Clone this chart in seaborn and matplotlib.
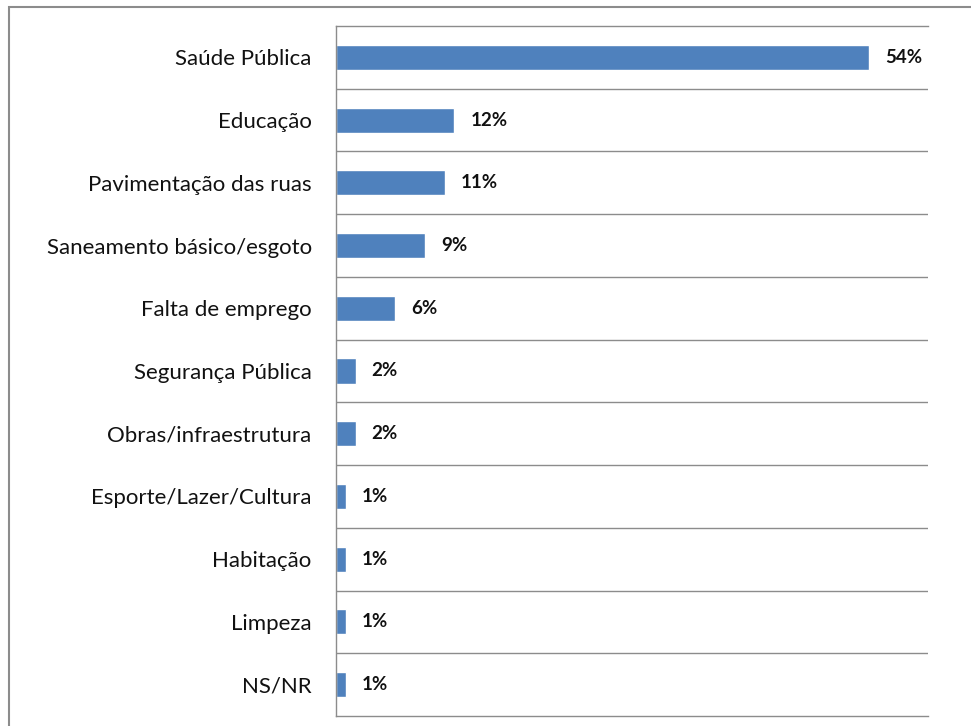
import numpy as np
import pandas as pd
import seaborn as sns
import matplotlib.pyplot as plt
from matplotlib.patches import Rectangle

categorias = ["Saúde Pública", "Educação", "Pavimentação das ruas",
              "Saneamento básico/esgoto", "Falta de emprego",
              "Segurança Pública", "Obras/infraestrutura",
              "Esporte/Lazer/Cultura", "Habitação", "Limpeza", "NS/NR"]
percentuais = [54, 12, 11, 9, 6, 2, 2, 1, 1, 1, 1]

df = pd.DataFrame({"categoria": categorias, "pct": percentuais})

sns.set_style("white")
plt.rcParams["font.family"] = ["Lato", "DejaVu Sans"]

W, H = 971, 726
fig = plt.figure(figsize=(W / 100, H / 100), dpi=100)
# axes box in pixels: x 336..928, y 26..716 (from top)
ax = fig.add_axes([336 / W, (H - 716) / H, (928 - 336) / W, (716 - 26) / H])

sns.barplot(data=df, x="pct", y="categoria", orient="h", color="#4F81BD",
            saturation=1, width=0.4, ax=ax)

n = len(categorias)
ax.set_xlim(0, 60)
ax.set_ylim(n - 0.5, -0.5)
ax.set_xlabel("")
ax.set_ylabel("")
ax.set_xticks([])

grid_col = "#8c8c8c"
ax.set_yticks(np.arange(-0.5, n), minor=True)
ax.tick_params(axis="y", which="major", length=0, pad=17.5, labelsize=16,
               labelcolor="#111111")
ax.tick_params(axis="y", which="minor", length=6, width=1, color=grid_col,
               direction="out")
ax.grid(False)
for b in np.arange(0.5, n - 1):
    ax.axhline(b, color=grid_col, linewidth=1, zorder=0.5)

ax.spines["right"].set_visible(False)
for s in ["left", "top", "bottom"]:
    ax.spines[s].set_color(grid_col)
    ax.spines[s].set_linewidth(1)

for i, v in enumerate(percentuais):
    ax.annotate(f"{v}%", xy=(v, i), xytext=(11.5, 0), textcoords="offset points",
                ha="left", va="center", fontsize=13.5, fontweight="bold",
                color="#111111")

fig.patches.append(Rectangle((9 / W, -0.1), 1.2, 1.1 - 7 / H,
                             transform=fig.transFigure, fill=False,
                             edgecolor="#8c8c8c", linewidth=1.5))

fig.savefig("out.png", dpi=100)
